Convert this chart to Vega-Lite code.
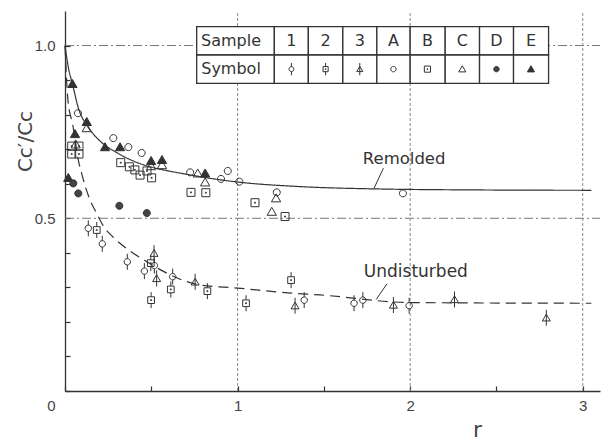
{
  "$schema": "https://vega.github.io/schema/vega-lite/v6.json",
  "width": 535,
  "height": 380,
  "autosize": "none",
  "padding": {"left": 65, "top": 11, "right": 1, "bottom": 53},
  "background": "white",
  "config": {"view": {"stroke": null}},
  "datasets": {
    "points": [
      {"r": 0.043, "ratio": 0.889, "s": "E"}, {"r": 0.126, "ratio": 0.779, "s": "E"}, {"r": 0.058, "ratio": 0.744, "s": "E"},
      {"r": 0.232, "ratio": 0.706, "s": "E"}, {"r": 0.319, "ratio": 0.706, "s": "E"}, {"r": 0.499, "ratio": 0.666, "s": "E"},
      {"r": 0.562, "ratio": 0.669, "s": "E"}, {"r": 0.812, "ratio": 0.630, "s": "E"}, {"r": 0.019, "ratio": 0.617, "s": "E"},
      {"r": 0.126, "ratio": 0.761, "s": "C"}, {"r": 0.062, "ratio": 0.714, "s": "C"}, {"r": 0.499, "ratio": 0.651, "s": "C"},
      {"r": 0.562, "ratio": 0.654, "s": "C"}, {"r": 0.769, "ratio": 0.630, "s": "C"}, {"r": 0.812, "ratio": 0.604, "s": "C"},
      {"r": 1.223, "ratio": 0.558, "s": "C"}, {"r": 1.198, "ratio": 0.519, "s": "C"},
      {"r": 0.075, "ratio": 0.804, "s": "A"}, {"r": 0.280, "ratio": 0.732, "s": "A"}, {"r": 0.367, "ratio": 0.706, "s": "A"},
      {"r": 0.444, "ratio": 0.689, "s": "A"}, {"r": 0.725, "ratio": 0.633, "s": "A"}, {"r": 0.904, "ratio": 0.614, "s": "A"},
      {"r": 0.943, "ratio": 0.637, "s": "A"}, {"r": 1.010, "ratio": 0.606, "s": "A"}, {"r": 1.227, "ratio": 0.575, "s": "A"},
      {"r": 1.958, "ratio": 0.572, "s": "A"},
      {"r": 0.039, "ratio": 0.709, "s": "B"}, {"r": 0.081, "ratio": 0.709, "s": "B"}, {"r": 0.039, "ratio": 0.686, "s": "B"},
      {"r": 0.081, "ratio": 0.686, "s": "B"}, {"r": 0.323, "ratio": 0.661, "s": "B"}, {"r": 0.373, "ratio": 0.649, "s": "B"},
      {"r": 0.405, "ratio": 0.640, "s": "B"}, {"r": 0.435, "ratio": 0.625, "s": "B"}, {"r": 0.475, "ratio": 0.637, "s": "B"},
      {"r": 0.502, "ratio": 0.617, "s": "B"}, {"r": 0.730, "ratio": 0.575, "s": "B"}, {"r": 0.816, "ratio": 0.574, "s": "B"},
      {"r": 1.101, "ratio": 0.545, "s": "B"}, {"r": 1.275, "ratio": 0.505, "s": "B"},
      {"r": 0.048, "ratio": 0.601, "s": "D"}, {"r": 0.077, "ratio": 0.572, "s": "D"}, {"r": 0.315, "ratio": 0.536, "s": "D"},
      {"r": 0.474, "ratio": 0.515, "s": "D"},
      {"r": 0.135, "ratio": 0.471, "s": "1"}, {"r": 0.216, "ratio": 0.426, "s": "1"}, {"r": 0.361, "ratio": 0.374, "s": "1"},
      {"r": 0.460, "ratio": 0.347, "s": "1"}, {"r": 0.518, "ratio": 0.363, "s": "1"}, {"r": 0.624, "ratio": 0.331, "s": "1"},
      {"r": 1.386, "ratio": 0.263, "s": "1"}, {"r": 1.675, "ratio": 0.254, "s": "1"}, {"r": 1.726, "ratio": 0.263, "s": "1"},
      {"r": 1.994, "ratio": 0.247, "s": "1"},
      {"r": 0.184, "ratio": 0.466, "s": "2"}, {"r": 0.497, "ratio": 0.370, "s": "2"}, {"r": 0.499, "ratio": 0.263, "s": "2"},
      {"r": 0.613, "ratio": 0.294, "s": "2"}, {"r": 0.825, "ratio": 0.289, "s": "2"}, {"r": 1.049, "ratio": 0.254, "s": "2"},
      {"r": 1.310, "ratio": 0.321, "s": "2"},
      {"r": 0.516, "ratio": 0.399, "s": "3"}, {"r": 0.531, "ratio": 0.326, "s": "3"}, {"r": 0.754, "ratio": 0.316, "s": "3"},
      {"r": 1.333, "ratio": 0.247, "s": "3"}, {"r": 1.903, "ratio": 0.249, "s": "3"}, {"r": 2.257, "ratio": 0.265, "s": "3"},
      {"r": 2.789, "ratio": 0.212, "s": "3"}
    ],
    "curves": [
      {"curve": "Remolded", "r": 0, "ratio": 1.0}, {"curve": "Remolded", "r": 0.02, "ratio": 0.935},
      {"curve": "Remolded", "r": 0.043, "ratio": 0.889}, {"curve": "Remolded", "r": 0.08, "ratio": 0.815},
      {"curve": "Remolded", "r": 0.126, "ratio": 0.77}, {"curve": "Remolded", "r": 0.2, "ratio": 0.725},
      {"curve": "Remolded", "r": 0.3, "ratio": 0.69}, {"curve": "Remolded", "r": 0.4, "ratio": 0.665},
      {"curve": "Remolded", "r": 0.5, "ratio": 0.648}, {"curve": "Remolded", "r": 0.6, "ratio": 0.637},
      {"curve": "Remolded", "r": 0.72, "ratio": 0.626}, {"curve": "Remolded", "r": 0.85, "ratio": 0.615},
      {"curve": "Remolded", "r": 1.0, "ratio": 0.605}, {"curve": "Remolded", "r": 1.35, "ratio": 0.592},
      {"curve": "Remolded", "r": 1.8, "ratio": 0.585}, {"curve": "Remolded", "r": 2.4, "ratio": 0.582},
      {"curve": "Remolded", "r": 3.05, "ratio": 0.581},
      {"curve": "Undisturbed", "r": 0, "ratio": 1.0}, {"curve": "Undisturbed", "r": 0.017, "ratio": 0.842},
      {"curve": "Undisturbed", "r": 0.045, "ratio": 0.77}, {"curve": "Undisturbed", "r": 0.077, "ratio": 0.669},
      {"curve": "Undisturbed", "r": 0.099, "ratio": 0.625}, {"curve": "Undisturbed", "r": 0.145, "ratio": 0.553},
      {"curve": "Undisturbed", "r": 0.184, "ratio": 0.514}, {"curve": "Undisturbed", "r": 0.232, "ratio": 0.47},
      {"curve": "Undisturbed", "r": 0.28, "ratio": 0.445}, {"curve": "Undisturbed", "r": 0.474, "ratio": 0.374},
      {"curve": "Undisturbed", "r": 0.783, "ratio": 0.307}, {"curve": "Undisturbed", "r": 1.0, "ratio": 0.298},
      {"curve": "Undisturbed", "r": 1.29, "ratio": 0.284}, {"curve": "Undisturbed", "r": 1.48, "ratio": 0.278},
      {"curve": "Undisturbed", "r": 2.0, "ratio": 0.256}, {"curve": "Undisturbed", "r": 3.05, "ratio": 0.254}
    ],
    "tableCells": [
      {"r": 0.763, "r2": 1.213, "ratio": 0.9727, "ratio2": 1.0546}, {"r": 1.213, "r2": 1.410, "ratio": 0.9727, "ratio2": 1.0546},
      {"r": 1.410, "r2": 1.610, "ratio": 0.9727, "ratio2": 1.0546}, {"r": 1.610, "r2": 1.807, "ratio": 0.9727, "ratio2": 1.0546},
      {"r": 1.807, "r2": 2.000, "ratio": 0.9727, "ratio2": 1.0546}, {"r": 2.000, "r2": 2.203, "ratio": 0.9727, "ratio2": 1.0546},
      {"r": 2.203, "r2": 2.402, "ratio": 0.9727, "ratio2": 1.0546}, {"r": 2.402, "r2": 2.599, "ratio": 0.9727, "ratio2": 1.0546},
      {"r": 2.599, "r2": 2.802, "ratio": 0.9727, "ratio2": 1.0546},
      {"r": 0.763, "r2": 1.213, "ratio": 0.8907, "ratio2": 0.9727}, {"r": 1.213, "r2": 1.410, "ratio": 0.8907, "ratio2": 0.9727},
      {"r": 1.410, "r2": 1.610, "ratio": 0.8907, "ratio2": 0.9727}, {"r": 1.610, "r2": 1.807, "ratio": 0.8907, "ratio2": 0.9727},
      {"r": 1.807, "r2": 2.000, "ratio": 0.8907, "ratio2": 0.9727}, {"r": 2.000, "r2": 2.203, "ratio": 0.8907, "ratio2": 0.9727},
      {"r": 2.203, "r2": 2.402, "ratio": 0.8907, "ratio2": 0.9727}, {"r": 2.402, "r2": 2.599, "ratio": 0.8907, "ratio2": 0.9727},
      {"r": 2.599, "r2": 2.802, "ratio": 0.8907, "ratio2": 0.9727}
    ],
    "tableText": [
      {"r": 0.962, "ratio": 1.0136, "t": "Sample"}, {"r": 0.962, "ratio": 0.9317, "t": "Symbol"},
      {"r": 1.312, "ratio": 1.0136, "t": "1"}, {"r": 1.510, "ratio": 1.0136, "t": "2"},
      {"r": 1.708, "ratio": 1.0136, "t": "3"}, {"r": 1.903, "ratio": 1.0136, "t": "A"},
      {"r": 2.100, "ratio": 1.0136, "t": "B"}, {"r": 2.302, "ratio": 1.0136, "t": "C"},
      {"r": 2.500, "ratio": 1.0136, "t": "D"}, {"r": 2.700, "ratio": 1.0136, "t": "E"}
    ],
    "tableSymbols": [
      {"r": 1.312, "ratio": 0.9317, "s": "1"}, {"r": 1.510, "ratio": 0.9317, "s": "2"},
      {"r": 1.708, "ratio": 0.9317, "s": "3"}, {"r": 1.903, "ratio": 0.9317, "s": "A"},
      {"r": 2.100, "ratio": 0.9317, "s": "B"}, {"r": 2.302, "ratio": 0.9317, "s": "C"},
      {"r": 2.500, "ratio": 0.9317, "s": "D"}, {"r": 2.700, "ratio": 0.9317, "s": "E"}
    ],
    "labels": [
      {"r": 1.965, "ratio": 0.672, "t": "Remolded", "fs": 16.5},
      {"r": 2.033, "ratio": 0.345, "t": "Undisturbed", "fs": 17}
    ],
    "leaders": [
      {"r": 1.845, "ratio": 0.645, "r2": 1.791, "ratio2": 0.587},
      {"r": 1.865, "ratio": 0.310, "r2": 1.803, "ratio2": 0.265}
    ],
    "hgrid": [{"ratio": 0.5, "r": 0, "r2": 3.1}, {"ratio": 1.0, "r": 0, "r2": 3.1}],
    "vgrid": [{"r": 1, "ratio": 0, "ratio2": 1.1}, {"r": 2, "ratio": 0, "ratio2": 1.1}, {"r": 3, "ratio": 0, "ratio2": 1.1}]
  },
  "encoding": {
    "x": {
      "field": "r", "type": "quantitative",
      "scale": {"domain": [0, 3.1], "nice": false, "zero": false},
      "axis": {
        "title": "r",
        "values": [0, 0.5, 1, 1.5, 2, 2.5, 3],
        "labelExpr": "datum.value == 0 || datum.value == 1 || datum.value == 2 || datum.value == 3 ? format(datum.value, 'd') : ''",
        "labelOverlap": false,
        "labelBound": false,
        "labelFlush": false,
        "labelOffset": {"condition": {"test": "datum.value == 0", "value": -14}, "value": 0},
        "grid": false,
        "tickSize": -5,
        "tickWidth": 1.2,
        "tickColor": "#333",
        "domainColor": "#333",
        "domainWidth": 1.3,
        "labelFont": "Liberation Sans",
        "labelFontSize": 15,
        "labelColor": "#444",
        "labelPadding": 12,
        "titleFont": "DejaVu Sans",
        "titleFontSize": 22,
        "titleFontWeight": "normal",
        "titleColor": "#444",
        "titleX": 412,
        "titleY": 38,
        "titleAlign": "center",
        "titleBaseline": "middle"
      }
    },
    "y": {
      "field": "ratio", "type": "quantitative",
      "scale": {"domain": [0, 1.1], "nice": false, "zero": false},
      "axis": {
        "title": "Cc′/Cc",
        "values": [0, 0.1, 0.2, 0.3, 0.4, 0.5, 0.6, 0.7, 0.8, 0.9, 1.0],
        "labelExpr": "abs(datum.value - 0.5) < 0.01 ? '0.5' : abs(datum.value - 1) < 0.01 ? '1.0' : ''",
        "labelOverlap": false,
        "labelBound": false,
        "labelFlush": false,
        "grid": false,
        "tickSize": -5,
        "tickWidth": 1.2,
        "tickColor": "#333",
        "tickRound": true,
        "domainColor": "#333",
        "domainWidth": 1.3,
        "labelFont": "Liberation Sans",
        "labelFontSize": 15,
        "labelColor": "#444",
        "labelPadding": 15,
        "titleFont": "DejaVu Sans",
        "titleFontSize": 20,
        "titleFontWeight": "normal",
        "titleColor": "#444",
        "titleX": -40,
        "titleY": 130,
        "titleAlign": "center",
        "titleBaseline": "middle",
        "titleAngle": -90
      }
    }
  },
  "layer": [
    {
      "data": {"name": "hgrid"},
      "mark": {"type": "rule", "color": "#777", "strokeWidth": 1, "strokeDash": [9, 3, 2, 3]},
      "encoding": {"x2": {"field": "r2"}}
    },
    {
      "data": {"name": "vgrid"},
      "mark": {"type": "rule", "color": "#888", "strokeWidth": 1, "strokeDash": [3, 2]},
      "encoding": {"y2": {"field": "ratio2"}}
    },
    {
      "data": {"name": "curves"},
      "mark": {"type": "line", "color": "#333", "strokeWidth": 1.2, "interpolate": "monotone"},
      "encoding": {
        "strokeDash": {"field": "curve", "type": "nominal", "scale": {"domain": ["Remolded", "Undisturbed"], "range": [[1, 0], [10, 6]]}, "legend": null}
      }
    },
    {
      "data": {"name": "leaders"},
      "mark": {"type": "rule", "color": "#333", "strokeWidth": 1},
      "encoding": {"x2": {"field": "r2"}, "y2": {"field": "ratio2"}}
    },
    {
      "data": {"name": "points"},
      "mark": {"type": "point", "stroke": "#333", "strokeWidth": 1, "opacity": 1, "size": 256},
      "encoding": {
        "shape": {
          "field": "s", "type": "nominal", "legend": null,
          "scale": {
            "domain": ["1", "2", "3", "A", "B", "C", "D", "E"],
            "range": [
              "M-0.4,0A0.4,0.4,0,1,1,0.4,0A0.4,0.4,0,1,1,-0.4,0ZM0,-1V-0.4M0,0.4V1",
              "M-0.42,-0.42H0.42V0.42H-0.42ZM-0.06,-0.06H0.06V0.06H-0.06ZM0,-1V-0.42M0,0.42V1",
              "M0,-0.45L0.5,0.4L-0.5,0.4ZM0,-1V1",
              "M-0.44,0A0.44,0.44,0,1,1,0.44,0A0.44,0.44,0,1,1,-0.44,0Z",
              "M-0.5,-0.5H0.5V0.5H-0.5ZM-0.06,-0.06H0.06V0.06H-0.06Z",
              "M0,-0.55L0.58,0.45L-0.58,0.45Z",
              "M-0.44,0A0.44,0.44,0,1,1,0.44,0A0.44,0.44,0,1,1,-0.44,0Z",
              "M0,-0.55L0.58,0.45L-0.58,0.45Z"
            ]
          }
        },
        "fill": {
          "field": "s", "type": "nominal", "legend": null,
          "scale": {
            "domain": ["1", "2", "3", "A", "B", "C", "D", "E"],
            "range": ["transparent", "transparent", "transparent", "transparent", "transparent", "transparent", "#444", "#333"]
          }
        }
      }
    },
    {
      "data": {"name": "labels"},
      "mark": {"type": "text", "font": "DejaVu Sans", "color": "#333", "align": "center", "baseline": "middle"},
      "encoding": {
        "text": {"field": "t"},
        "size": {"field": "fs", "type": "quantitative", "scale": null, "legend": null}
      }
    },
    {
      "data": {"name": "tableCells"},
      "mark": {"type": "rect", "fill": "white", "stroke": "#333", "strokeWidth": 1.3},
      "encoding": {"x2": {"field": "r2"}, "y2": {"field": "ratio2"}}
    },
    {
      "data": {"name": "tableText"},
      "mark": {"type": "text", "font": "DejaVu Sans", "fontSize": 16, "color": "#333", "align": "center", "baseline": "middle"},
      "encoding": {"text": {"field": "t"}}
    },
    {
      "data": {"name": "tableSymbols"},
      "mark": {"type": "point", "stroke": "#333", "strokeWidth": 1, "opacity": 1, "size": 150},
      "encoding": {
        "shape": {"field": "s", "type": "nominal", "legend": null},
        "fill": {"field": "s", "type": "nominal", "legend": null}
      }
    }
  ]
}
